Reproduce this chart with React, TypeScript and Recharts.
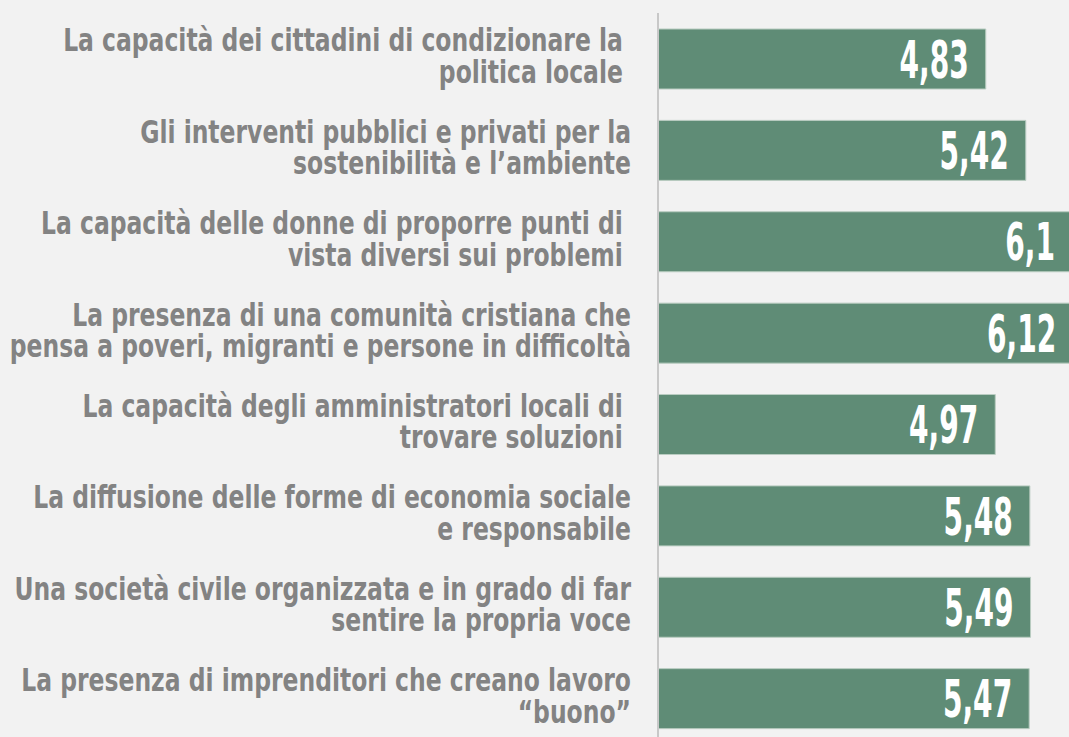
import React from 'react';
import { BarChart, Bar, XAxis, YAxis, LabelList } from 'recharts';

const categories: string[] = [
  'La capacità dei cittadini di condizionare la \npolitica locale ',
  'Gli interventi pubblici e privati per la\nsostenibilità e l’ambiente',
  'La capacità delle donne di proporre punti di \nvista diversi sui problemi ',
  'La presenza di una comunità cristiana che\npensa a poveri, migranti e persone in difficoltà',
  'La capacità degli amministratori locali di \ntrovare soluzioni ',
  'La diffusione delle forme di economia sociale\ne responsabile',
  'Una società civile organizzata e in grado di far\nsentire la propria voce',
  'La presenza di imprenditori che creano lavoro\n“buono”',
];
const values: number[] = [4.83, 5.42, 6.1, 6.12, 4.97, 5.48, 5.49, 5.47];
const valueLabels: string[] = ['4,83', '5,42', '6,1', '6,12', '4,97', '5,48', '5,49', '5,47'];

const data = categories.map((c, i) => ({ name: c, value: values[i], label: valueLabels[i] }));

const FONT = '"DejaVu Sans Condensed", "DejaVu Sans", sans-serif';

const CategoryTick = (props: any) => {
  const { x, y, payload } = props;
  const lines: string[] = String(payload.value).split('\n');
  const lh = 31.5;
  const start = -((lines.length - 1) * lh) / 2 - 3;
  return (
    <g transform={`translate(${x - 19},${y}) scale(0.815,1)`}>
      {lines.map((ln, i) => (
        <text
          key={i}
          x={0}
          y={start + i * lh}
          dy="0.36em"
          textAnchor="end"
          fill="#838383"
          fontFamily={FONT}
          fontWeight={700}
          fontSize={32}
          style={{ whiteSpace: 'pre' }}
        >
          {ln}
        </text>
      ))}
    </g>
  );
};

const ValueLabel = (props: any) => {
  const { x, y, width, height, value } = props;
  const ex = x + width - 17;
  const cy = y + height / 2;
  return (
    <text
      transform={`translate(${ex},${cy}) scale(0.6,1)`}
      x={0}
      y={0}
      dy="0.36em"
      textAnchor="end"
      fill="#ffffff"
      fontFamily={FONT}
      fontWeight={700}
      fontSize={52}
    >
      {value}
    </text>
  );
};

export default function App() {
  return (
    <div
      style={{
        position: 'absolute',
        left: 0,
        top: 0,
        width: 1069,
        height: 737,
        background: '#f2f2f2',
        overflow: 'hidden',
      }}
    >
      <BarChart
        width={1133}
        height={744}
        data={data}
        layout="vertical"
        margin={{ top: 13, right: 0, bottom: 0, left: 0 }}
        barSize={60}
      >
        <XAxis type="number" domain={[0, 7]} hide />
        <YAxis
          type="category"
          dataKey="name"
          width={658}
          axisLine={{ stroke: '#c8c8c8', strokeWidth: 2 }}
          tickLine={false}
          tick={<CategoryTick />}
          interval={0}
        />
        <Bar dataKey="value" fill="#5f8c76" stroke="#b9ccc1" strokeWidth={1} isAnimationActive={false}>
          <LabelList dataKey="label" content={<ValueLabel />} />
        </Bar>
      </BarChart>
    </div>
  );
}
